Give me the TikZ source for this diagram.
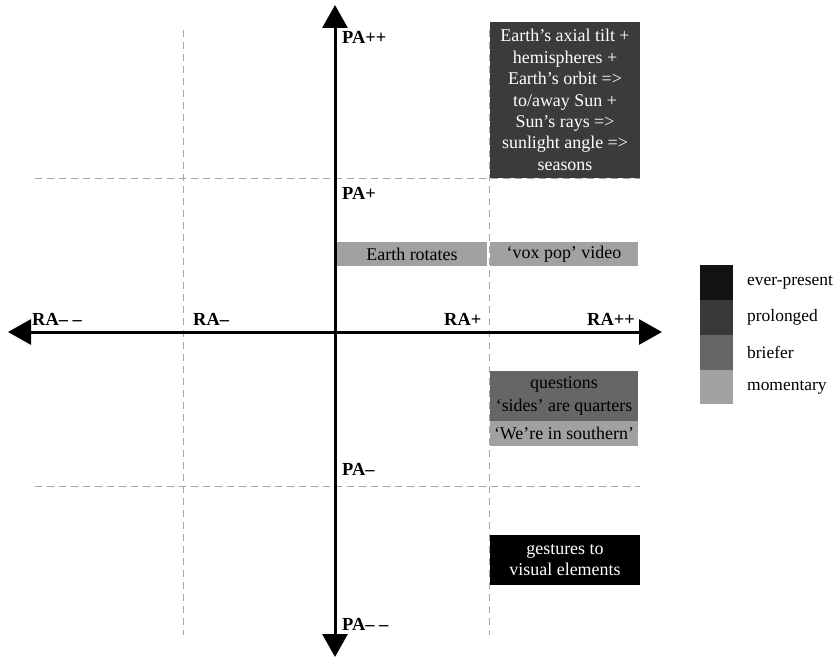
\documentclass[tikz,border=0pt]{standalone}
\usepackage{fontspec}
\setmainfont{Liberation Serif}
\usetikzlibrary{arrows.meta}
\begin{document}
\begin{tikzpicture}[x=1bp,y=-1bp,
  axis/.style={line width=3bp,-{Triangle[width=25bp,length=23bp]}},
  grid/.style={gray!70,dash pattern=on 7bp off 5bp,line width=0.8bp},
  lab/.style={font=\fontsize{18.5}{22}\selectfont\bfseries,inner sep=0pt,anchor=base west},
  box/.style={draw=none,inner sep=0pt,align=center,font=\fontsize{18}{21.5}\selectfont},
  legtext/.style={font=\fontsize{17.5}{20}\selectfont,anchor=west,inner sep=0pt}]
\useasboundingbox (0,0) rectangle (839,658);
% dashed quadrant lines
\draw[grid] (183,30) -- (183,635);
\draw[grid] (489,30) -- (489,635);
\draw[grid] (35,178) -- (640,178);
\draw[grid] (35,486) -- (640,486);
% boxes
\node[box,fill=black!77,text=white,minimum width=150bp,minimum height=156bp] (tilt) at (565,100)
  {Earth’s axial tilt +\\hemispheres +\\Earth’s orbit =>\\to/away Sun +\\Sun’s rays =>\\sunlight angle =>\\seasons};
\node[box,fill=black!37,minimum width=150bp,minimum height=24bp] (rot) at (412,254) {Earth rotates};
\node[box,fill=black!37,minimum width=148bp,minimum height=24bp] (vox) at (564,254) {‘vox pop’ video};
\node[box,fill=black!60,minimum width=148bp,minimum height=50bp,font=\fontsize{18}{24}\selectfont] (q) at (564,396) {questions\\‘sides’ are quarters};
\node[box,fill=black!37,minimum width=148bp,minimum height=25bp] (south) at (564,433.5) {‘We’re in southern’};
\node[box,fill=black,text=white,minimum width=150bp,minimum height=50bp] (gest) at (565,560) {gestures to\\visual elements};
% axes
\coordinate (ytop) at (335,5);
\coordinate (ybot) at (335,657);
\coordinate (xl) at (8,332);
\coordinate (xr) at (662,332);
\coordinate (o) at (335,332);
\draw[axis] (o) -- (ytop);
\draw[axis] (o) -- (ybot);
\draw[axis] (o) -- (xl);
\draw[axis] (o) -- (xr);
% axis labels
\node[lab] (pa2) at (342,44) {PA++};
\node[lab] (pa1) at (342,199) {PA+};
\node[lab] (pm1) at (342,475) {PA–};
\node[lab] (pm2) at (342,630) {PA– –};
\node[lab] (rm2) at (32,325) {RA– –};
\node[lab] (rm1) at (193,325) {RA–};
\node[lab] (rp1) at (444,325) {RA+};
\node[lab] (rp2) at (587,325) {RA++};
% legend
\fill[black!93] (700,265) rectangle (733,300);
\fill[black!78] (700,300) rectangle (733,335);
\fill[black!60] (700,335) rectangle (733,370);
\fill[black!37] (700,370) rectangle (733,404);
\node[legtext] (l1) at (747,282) {ever-present};
\node[legtext] (l2) at (747,317) {prolonged};
\node[legtext] (l3) at (747,352) {briefer};
\node[legtext] (l4) at (747,387) {momentary};
\end{tikzpicture}
\end{document}
